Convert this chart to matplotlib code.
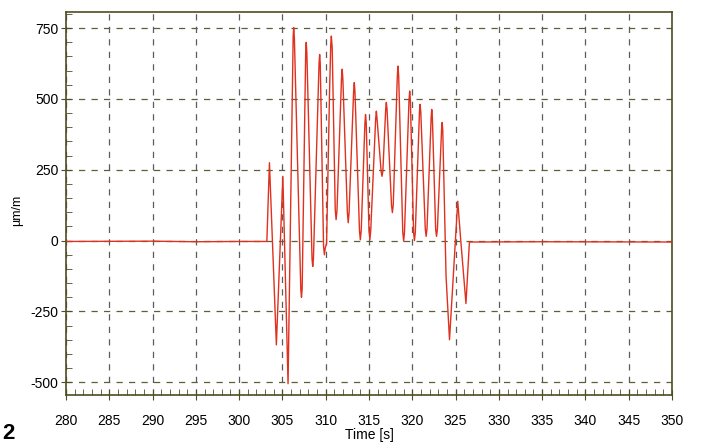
import matplotlib.pyplot as plt
from matplotlib.ticker import MultipleLocator

plt.rcParams['font.family'] = ['Liberation Sans', 'DejaVu Sans']
plt.rcParams['axes.unicode_minus'] = False

# strain trace, points
time_s = [280, 290, 295, 300, 303.2,
          303.5, 304.3, 305.05, 305.65,
          306.24, 306.3, 306.38, 307.12, 307.2, 307.28,
          307.69, 307.75, 307.82, 308.42, 308.5, 308.58,
          309.23, 309.3, 309.37, 309.75, 309.85, 309.95, 310.1,
          310.45, 310.58, 310.65, 310.75, 311.1, 311.2, 311.3,
          311.82, 311.9, 311.98, 312.5, 312.6, 312.7,
          313.22, 313.3, 313.38, 313.9, 314.0, 314.1,
          314.53, 314.6, 314.68, 315.0, 315.1, 315.2,
          315.77, 315.85, 315.93, 316.4, 316.5, 316.6,
          316.93, 317.0, 317.08, 317.6, 317.7, 317.8,
          318.27, 318.35, 318.43, 318.9, 319.0, 319.1,
          319.62, 319.7, 319.78, 320.15, 320.25, 320.35,
          320.83, 320.9, 320.98, 321.5, 321.6, 321.7,
          322.18, 322.25, 322.32, 322.7, 322.8, 322.9,
          323.38, 323.45, 323.52, 323.9, 324.3, 325.25,
          325.6, 326.2, 326.6, 335, 350]
strain = [-3, -2, -4, -3, -3,
          275, -368, 227, -505,
          720, 752, 715, -170, -200, -170,
          670, 700, 665, -65, -91, -65,
          625, 657, 625, -20, -50, -25, -10,
          534, 690, 722, 680, 110, 74, 105,
          570, 605, 570, 100, 63, 100,
          525, 558, 525, 35, 3, 35,
          415, 445, 415, 35, 3, 35,
          430, 457, 430, 245, 227, 245,
          465, 488, 465, 125, 99, 125,
          580, 616, 580, 30, -2, 30,
          495, 528, 495, 30, 0, 30,
          455, 481, 455, 42, 15, 42,
          435, 463, 435, 40, 15, 40,
          390, 417, 390, -126, -350, 139,
          0, -222, -5, -4, -5]

fig = plt.figure(figsize=(7.01, 4.48), dpi=100)
ax = fig.add_axes([66/701, 1-395/448, (672-66)/701, (395-12)/448])

ax.plot(time_s, strain, color='#e0301e', lw=1.0, zorder=3)

ax.set_xlim(280, 350)
ax.set_ylim(-545, 807)
ax.xaxis.set_major_locator(MultipleLocator(5))
ax.xaxis.set_minor_locator(MultipleLocator(1))
ax.yaxis.set_major_locator(MultipleLocator(250))
ax.yaxis.set_minor_locator(MultipleLocator(50))

frame = '#4d4d22'
for s in ax.spines.values():
    s.set_color(frame)
    s.set_linewidth(1.2)
ax.tick_params(which='major', direction='inout', length=7, color=frame, labelsize=10, pad=2)
ax.tick_params(axis='x', which='major', pad=10)
ax.tick_params(which='minor', direction='in', length=4, color=frame)

ax.grid(True, axis='x', which='major', color='#5c5c5c', ls=(0, (5, 5)), lw=0.9)
ax.grid(True, axis='y', which='major', color='#5e5e3a', ls=(0, (5, 5)), lw=0.9)

ax.set_xlabel('Time [s]', fontsize=10, labelpad=0)
ax.set_ylabel('µm/m', fontsize=9)
ax.yaxis.set_label_coords(-0.071, 0.483)

fig.text(0.003, 0.02, '2', fontsize=16, fontweight='bold')

fig.savefig('out.png', dpi=100)
